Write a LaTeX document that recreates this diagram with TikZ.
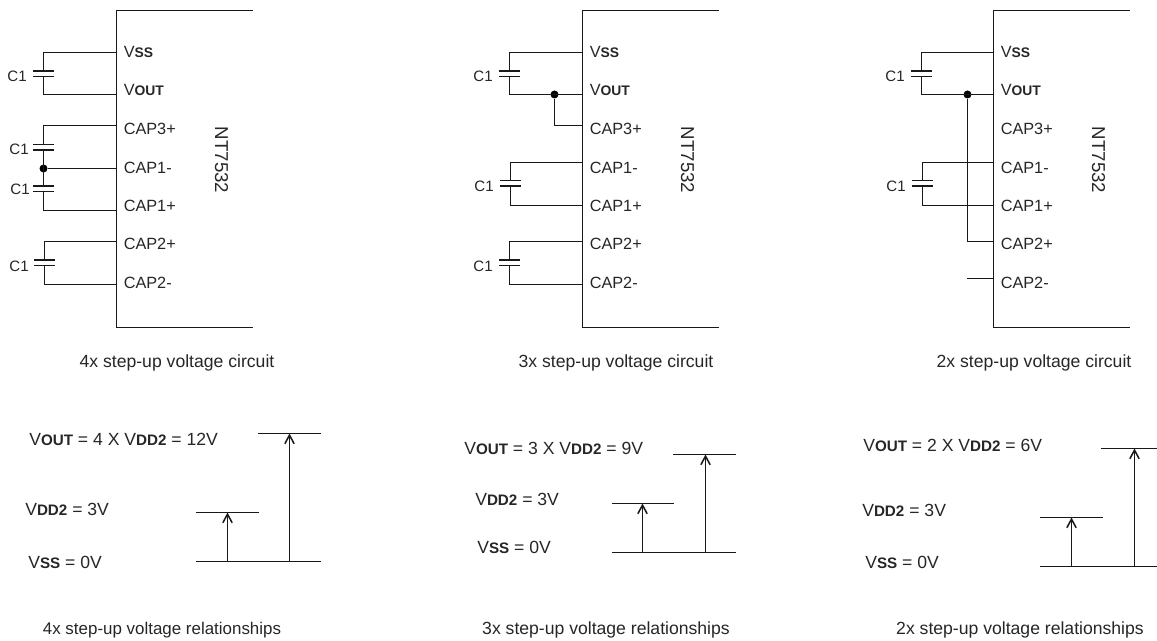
\documentclass[tikz,border=0pt]{standalone}
\usepackage{fontspec}
\setmainfont{Liberation Sans}
\usetikzlibrary{arrows.meta}

% small bold part of a signal name
\newcommand{\sgnsize}{10.4}
\newcommand{\sgn}[1]{{\fontsize{\sgnsize}{12}\selectfont\bfseries #1}}
% capacitor between two pins: wire x, upper pin, lower pin, y of upper plate
\newcommand{\capc}[4]{
    \draw[wire] (#2) -| (#1,#4);
    \draw[wire] (#3) -| (#1,#4+5.5);
    \draw[wire] (#1-10.5,#4) -- (#1+10.5,#4);
    \draw[wire] (#1-10.5,#4+5.5) -- (#1+10.5,#4+5.5);
}

\tikzset{
    wire/.style={black!90,line width=1.15pt},
    level/.style={black!90,line width=1.15pt},
    rise/.style={black!90,line width=1.15pt,-{Straight Barb[length=6.5pt,width=7pt]}},
    dot/.style={circle,fill=black,inner sep=0pt,minimum size=6pt},
    lbl/.style={anchor=base west,inner sep=0pt,text=black!85},
    rlbl/.style={lbl,font=\fontsize{13.2}{15}\selectfont\renewcommand{\sgnsize}{11.4}},
    capt/.style={anchor=base,inner sep=0pt,text=black!85,font=\fontsize{13.2}{15}\selectfont},
    clbl/.style={anchor=base east,inner sep=0pt,text=black!85,font=\fontsize{11.3}{13}\selectfont},
}

\begin{document}
\begin{tikzpicture}[x=0.75pt,y=-0.75pt,font=\fontsize{12.2}{14}\selectfont]
    \useasboundingbox (0,0) rectangle (1157,641);

    % chip outlines and pin names
    \foreach \x/\p in {116.5/A,582.5/B,993.5/C} {
        \coordinate (topl\p) at (\x,10.5);
        \coordinate (botl\p) at (\x,327.5);
        \coordinate (topr\p) at (\x+136,10.5);
        \coordinate (botr\p) at (\x+136,327.5);
        \draw[wire] (topr\p) -- (topl\p) -- (botl\p) -- (botr\p);
        \node[lbl] (nvss\p) at (\x+7,58) {V\sgn{SS}};
        \node[lbl] (nvout\p) at (\x+7,96) {V\sgn{OUT}};
        \node[lbl] (ncapc\p) at (\x+7,135) {CAP3+};
        \node[lbl] (ncapa\p) at (\x+7,174) {CAP1-};
        \node[lbl] (ncapb\p) at (\x+7,212) {CAP1+};
        \node[lbl] (ncapd\p) at (\x+7,250) {CAP2+};
        \node[lbl] (ncape\p) at (\x+7,289) {CAP2-};
        \node[rotate=-90,inner sep=0pt,text=black!85,font=\fontsize{14}{16}\selectfont] (chip\p) at (\x+105,160) {NT7532};
    }

    % 4x circuit
    \coordinate (vssA) at (116.5,52.5);
    \coordinate (voutA) at (116.5,94.5);
    \coordinate (cap3A) at (116.5,125.5);
    \coordinate (cap1mA) at (116.5,168.5);
    \coordinate (cap1pA) at (116.5,210.5);
    \coordinate (cap2pA) at (116.5,241.5);
    \coordinate (cap2mA) at (116.5,284.5);
    \node[dot] (jointA) at (43.5,168.5) {};
    \capc{43.5}{vssA}{voutA}{71}
    \capc{43.5}{cap3A}{jointA}{144.5}
    \capc{43.5}{jointA}{cap1pA}{186}
    \capc{44.5}{cap2pA}{cap2mA}{260}
    \draw[wire] (jointA) -- (cap1mA);
    \node[clbl] (cA) at (27,81.5) {C1};
    \node[clbl] (cB) at (29,155) {C1};
    \node[clbl] (cC) at (30,195) {C1};
    \node[clbl] (cD) at (29,272) {C1};

    % 3x circuit
    \coordinate (vssB) at (582.5,52.5);
    \coordinate (voutB) at (582.5,94.5);
    \coordinate (cap3B) at (582.5,125.5);
    \coordinate (cap1mB) at (582.5,162.5);
    \coordinate (cap1pB) at (582.5,205.5);
    \coordinate (cap2pB) at (582.5,241.5);
    \coordinate (cap2mB) at (582.5,284.5);
    \node[dot] (jointB) at (554.5,94.5) {};
    \capc{509.5}{vssB}{voutB}{71}
    \capc{510.5}{cap1mB}{cap1pB}{180.5}
    \capc{509.5}{cap2pB}{cap2mB}{260}
    \draw[wire] (jointB) |- (cap3B);
    \node[clbl] (cE) at (493,81.5) {C1};
    \node[clbl] (cF) at (494,192) {C1};
    \node[clbl] (cG) at (493,272) {C1};

    % 2x circuit
    \coordinate (vssC) at (993.5,52.5);
    \coordinate (voutC) at (993.5,94.5);
    \coordinate (cap1mC) at (993.5,162.5);
    \coordinate (cap1pC) at (993.5,205.5);
    \coordinate (cap2pC) at (993.5,241.5);
    \coordinate (cap2mC) at (993.5,278.5);
    \coordinate (stubC) at (967,278.5);
    \node[dot] (jointC) at (967.5,94.5) {};
    \capc{921.5}{vssC}{voutC}{71}
    \capc{922.5}{cap1mC}{cap1pC}{180.5}
    \draw[wire] (jointC) |- (cap2pC);
    \draw[wire] (stubC) -- (cap2mC);
    \node[clbl] (cH) at (905,81.5) {C1};
    \node[clbl] (cI) at (906,192) {C1};

    \node[capt] (circA) at (177,368) {4x step-up voltage circuit};
    \node[capt] (circB) at (616,368) {3x step-up voltage circuit};
    \node[capt] (circC) at (1034,368) {2x step-up voltage circuit};

    % 4x levels
    \coordinate (lowlA) at (196,561.5);
    \coordinate (lowrA) at (321,561.5);
    \coordinate (midlA) at (196,512.5);
    \coordinate (midrA) at (259,512.5);
    \coordinate (toplA) at (258,433.5);
    \coordinate (toprA) at (321,433.5);
    \coordinate (arlA) at (227.5,561.5);
    \coordinate (armA) at (227.5,512.5);
    \coordinate (arrA) at (289.5,561.5);
    \coordinate (artA) at (289.5,433.5);
    \draw[level] (lowlA) -- (lowrA);
    \draw[level] (midlA) -- (midrA);
    \draw[level] (toplA) -- (toprA);
    \draw[rise] (arlA) -- (armA);
    \draw[rise] (arrA) -- (artA);
    \node[rlbl] (voutlA) at (29,446) {V\sgn{OUT} = 4 X V\sgn{DD2} = 12V};
    \node[rlbl] (vddlA) at (25,516) {V\sgn{DD2} = 3V};
    \node[rlbl] (vsslA) at (28,568) {V\sgn{SS} = 0V};

    % 3x levels
    \coordinate (lowlB) at (612,552.5);
    \coordinate (lowrB) at (736,552.5);
    \coordinate (midlB) at (612,503.5);
    \coordinate (midrB) at (674,503.5);
    \coordinate (toplB) at (673,454.5);
    \coordinate (toprB) at (736,454.5);
    \coordinate (arlB) at (642.5,552.5);
    \coordinate (armB) at (642.5,503.5);
    \coordinate (arrB) at (705.5,552.5);
    \coordinate (artB) at (705.5,454.5);
    \draw[level] (lowlB) -- (lowrB);
    \draw[level] (midlB) -- (midrB);
    \draw[level] (toplB) -- (toprB);
    \draw[rise] (arlB) -- (armB);
    \draw[rise] (arrB) -- (artB);
    \node[rlbl] (voutlB) at (464,455) {V\sgn{OUT} = 3 X V\sgn{DD2} = 9V};
    \node[rlbl] (vddlB) at (475,505) {V\sgn{DD2} = 3V};
    \node[rlbl] (vsslB) at (477,553) {V\sgn{SS} = 0V};

    % 2x levels
    \coordinate (lowlC) at (1040,566.5);
    \coordinate (lowrC) at (1157,566.5);
    \coordinate (midlC) at (1040,517.5);
    \coordinate (midrC) at (1103,517.5);
    \coordinate (toplC) at (1101,448.5);
    \coordinate (toprC) at (1157,448.5);
    \coordinate (arlC) at (1071.5,566.5);
    \coordinate (armC) at (1071.5,517.5);
    \coordinate (arrC) at (1134.5,566.5);
    \coordinate (artC) at (1134.5,448.5);
    \draw[level] (lowlC) -- (lowrC);
    \draw[level] (midlC) -- (midrC);
    \draw[level] (toplC) -- (toprC);
    \draw[rise] (arlC) -- (armC);
    \draw[rise] (arrC) -- (artC);
    \node[rlbl] (voutlC) at (863,452) {V\sgn{OUT} = 2 X V\sgn{DD2} = 6V};
    \node[rlbl] (vddlC) at (862,517) {V\sgn{DD2} = 3V};
    \node[rlbl] (vsslC) at (865,568) {V\sgn{SS} = 0V};

    \node[capt,font=\fontsize{12.7}{15}\selectfont] (relA) at (162,634) {4x step-up voltage relationships};
    \node[capt] (relB) at (606,634) {3x step-up voltage relationships};
    \node[capt] (relC) at (1020,634) {2x step-up voltage relationships};
\end{tikzpicture}
\end{document}
